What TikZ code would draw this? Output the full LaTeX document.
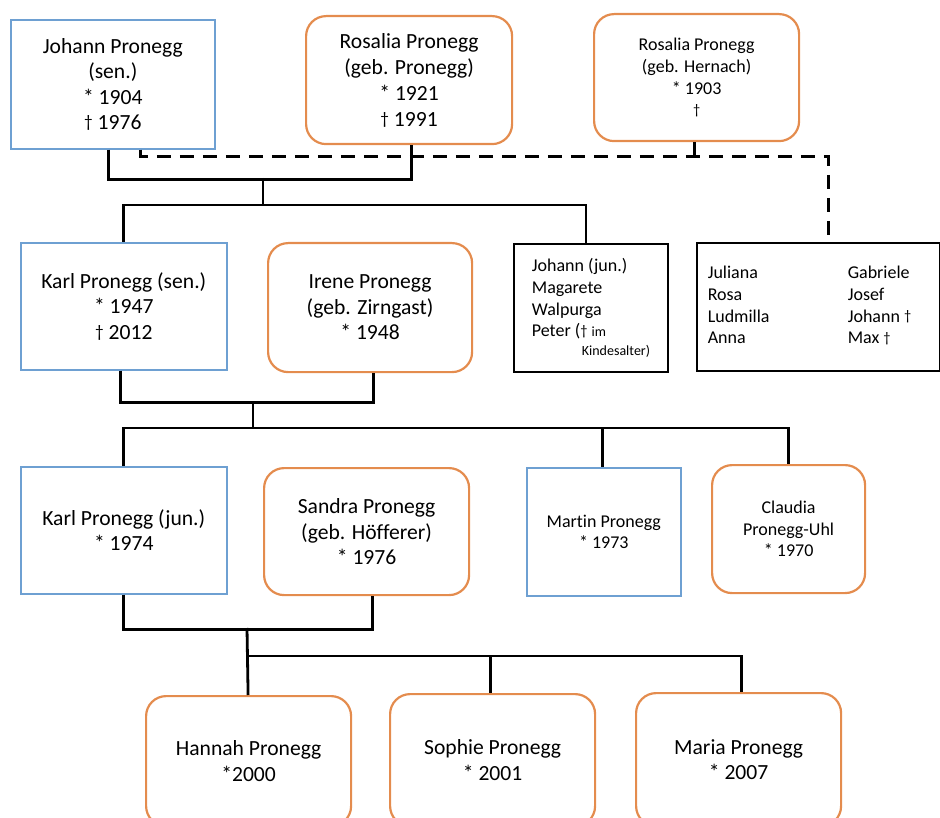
\documentclass[tikz,border=0pt]{standalone}
\usepackage{graphicx}
\usepackage{fontspec}
\setmainfont{Carlito}[Ligatures=NoCommon]
\newcommand\dgr{\raisebox{0.2ex}{\scalebox{0.8}{†}}}
\definecolor{mblue}{RGB}{110,160,210}
\definecolor{forange}{RGB}{228,140,78}
\tikzset{
  person/.style={anchor=north west, inner sep=0pt, align=center, font=\fontsize{21.6}{25.5}\selectfont},
  mbox/.style={person, draw=mblue, line width=1.6pt},
  fbox/.style={person, draw=forange, line width=2.2pt, rounded corners=20pt},
  lbox/.style={anchor=north west, inner sep=0pt, draw=black, line width=2pt, font=\fontsize{18}{21.7}\selectfont},
  smalltext/.style={font=\fontsize{18}{21.7}\selectfont},
  wh/.style 2 args={minimum width=#1pt, minimum height=#2pt},
  conn/.style={line width=2.8pt, black},
  dconn/.style={conn, dash pattern=on 14pt off 9pt}
}
\begin{document}
\begin{tikzpicture}[x=1pt,y=-1pt]
\useasboundingbox (0,0) rectangle (940,818);
\clip (0,0) rectangle (940,818);

% top row
\node[mbox, wh={204}{129}] (js) at (10,19) {Johann Pronegg\\(sen.)\\* 1904\\\dgr\ 1976};
\node[fbox, wh={206}{128}, font=\fontsize{21.6}{26}\selectfont] (rp) at (305,15) {Rosalia Pronegg\\(geb. Pronegg)\\* 1921\\\dgr\ 1991};
\node[fbox, wh={205}{127}, smalltext] (rh) at (593,13) {Rosalia Pronegg\\(geb. Hernach)\\* 1903\\\dgr};

% second row
\node[mbox, wh={206}{127}] (ks) at (20,242) {Karl Pronegg (sen.)\\* 1947\\\dgr\ 2012};
\node[fbox, wh={204}{129}] (ir) at (267,242) {Irene Pronegg\\(geb. Zirngast)\\* 1948};
\node[lbox, wh={154}{128}, align=left] (cj) at (513,243) {Johann (jun.)\\Magarete\\Walpurga\\Peter (\dgr\ {\fontsize{14}{16}\selectfont im}\\[-3pt]\hspace*{50pt}{\fontsize{14}{16}\selectfont Kindesalter)}};
\node[lbox, wh={243}{128}] (sb) at (696,242) {\begin{tabular}{@{}p{140pt}@{}l@{}}Juliana & Gabriele\\Rosa & Josef\\Ludmilla & Johann \dgr\\Anna & Max \dgr\end{tabular}\hspace*{18pt}};

% third row
\node[mbox, wh={206}{127}] (kj) at (20,466) {Karl Pronegg (jun.)\\* 1974};
\node[fbox, wh={205}{127}] (sa) at (263,467) {Sandra Pronegg\\(geb. Höfferer)\\* 1976};
\node[mbox, wh={154}{128}, smalltext] (ma) at (526,467) {Martin Pronegg\\* 1973};
\node[fbox, wh={153}{128}, smalltext] (cl) at (711,464) {Claudia\\Pronegg-Uhl\\* 1970};

% bottom row
\node[fbox, wh={205}{130}] (ha) at (145,695) {Hannah Pronegg\\*2000};
\node[fbox, wh={205}{132}] (so) at (389,693) {Sophie Pronegg\\* 2001};
\node[fbox, wh={205}{133}] (mr) at (635,692) {Maria Pronegg\\* 2007};

% couple 1
\coordinate (m1) at (263,178);
\coordinate (b1) at (263,205);
\draw[conn] ([xshift=-4pt]js.south) -- ++(0,30) -| ([xshift=2pt]rp.south);
\draw[conn] (m1) -- (b1);
\draw[conn] (ks.north) |- (b1) -| ([xshift=-5pt]cj.north);
\draw[dconn] ([xshift=28pt]js.south) -- ++(0,7) -| ([xshift=10pt]sb.north);
\draw[conn] ([xshift=-2pt]rh.south) -- ++(0,15);

% couple 2
\coordinate (m2) at (253,401);
\coordinate (b2) at (253,428);
\draw[conn] ([xshift=-3pt]ks.south) -- ++(0,32) -| ([xshift=3pt]ir.south);
\draw[conn] (m2) -- (b2);
\draw[conn] (kj.north) |- (b2) -| ([xshift=-1pt]ma.north);
\draw[conn] (b2) -| (cl.north);

% couple 3
\coordinate (m3) at (247,628);
\coordinate (b3) at (247,656);
\draw[conn] (kj.south) -- ++(0,35) -| ([xshift=6pt]sa.south);
\draw[conn] (m3) -- ([xshift=-0.5pt]ha.north);
\draw[conn] (b3) -| ([xshift=-2pt]so.north);
\draw[conn] (b3) -| ([xshift=3pt]mr.north);
\end{tikzpicture}
\end{document}
